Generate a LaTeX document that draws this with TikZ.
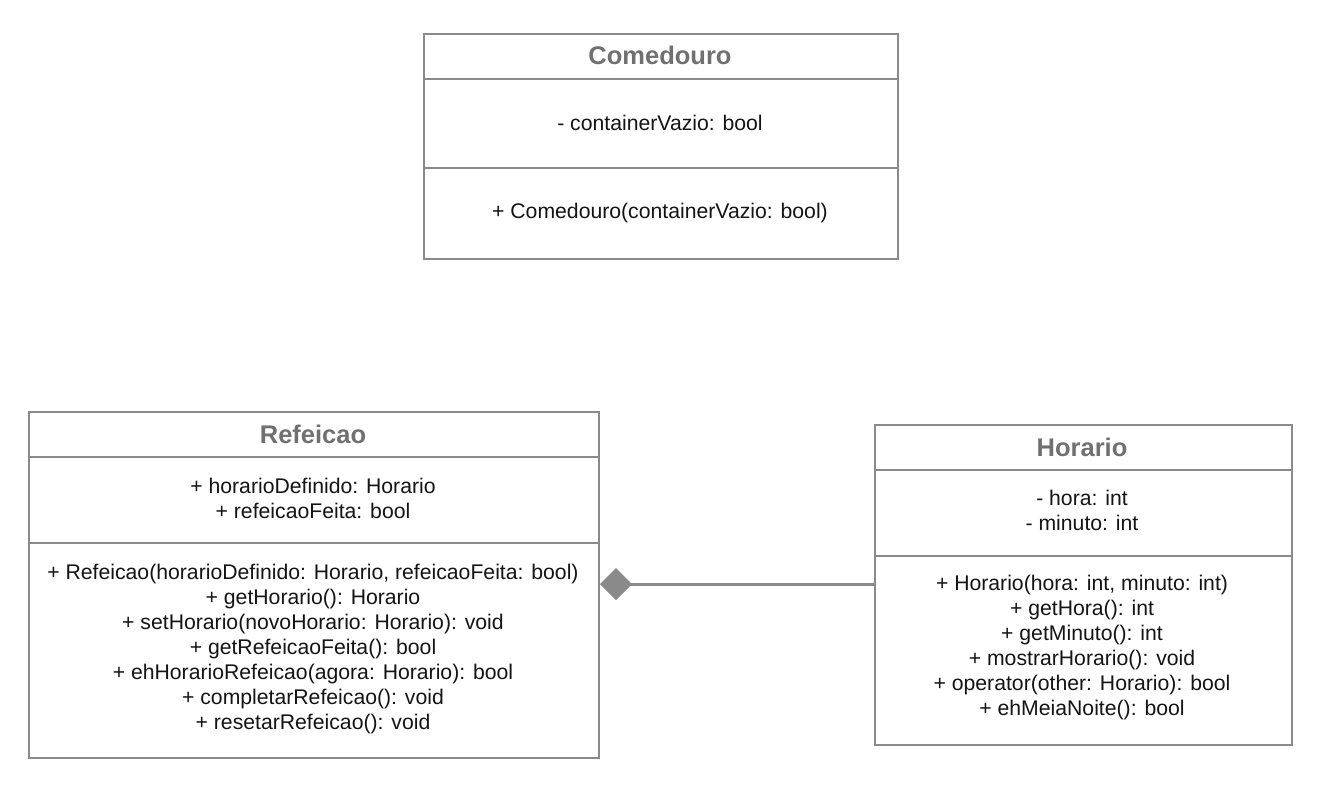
\documentclass[tikz,border=0pt]{standalone}
\usepackage{fontspec}
\setmainfont{Liberation Sans}
\usetikzlibrary{arrows.meta}
\definecolor{lc}{HTML}{8A8A8A}
\definecolor{tc}{HTML}{707070}
\definecolor{txt}{HTML}{141414}
\begin{document}
\begin{tikzpicture}[x=1pt,y=-1pt,
  box/.style={draw=lc, line width=2pt, fill=white, inner sep=0pt, anchor=north west},
  divider/.style={draw=lc, line width=1.6pt},
  title/.style={font=\fontsize{25.5}{29}\selectfont\bfseries, text=tc, inner sep=0pt},
  members/.style={font=\fontsize{21.2}{25}\selectfont, text=txt, align=center, inner sep=0pt},
  comp/.style={draw=lc, line width=3pt, {Diamond[length=32pt,width=32pt,fill=lc,line width=0pt]}-}]
\useasboundingbox (0,0) rectangle (1320,785);
% Comedouro
\node[box, minimum width=474pt, minimum height=225pt] (com) at (423,33) {};
\draw[divider] ([yshift=-46pt]com.north west) -- ([yshift=-46pt]com.north east);
\draw[divider] ([yshift=-135pt]com.north west) -- ([yshift=-135pt]com.north east);
\node[title] (comT) at (660,55) {Comedouro};
\node[members] (comA) at (660,123) {- containerVazio: bool};
\node[members] (comM) at (660,213) {+ Comedouro(containerVazio: bool)};
% Refeicao
\node[box, minimum width=570pt, minimum height=346pt] (ref) at (28,411) {};
\draw[divider] ([yshift=-46pt]ref.north west) -- ([yshift=-46pt]ref.north east);
\draw[divider] ([yshift=-132pt]ref.north west) -- ([yshift=-132pt]ref.north east);
\node[title] (refT) at (313,434) {Refeicao};
\node[members] (refA) at (313,498) {+ horarioDefinido: Horario\\+ refeicaoFeita: bool};
\node[members] (refM) at (313,649) {+ Refeicao(horarioDefinido: Horario, refeicaoFeita: bool)\\
  + getHorario(): Horario\\
  + setHorario(novoHorario: Horario): void\\
  + getRefeicaoFeita(): bool\\
  + ehHorarioRefeicao(agora: Horario): bool\\
  + completarRefeicao(): void\\
  + resetarRefeicao(): void};
% Horario
\node[box, minimum width=417pt, minimum height=320pt] (hor) at (874,424) {};
\draw[divider] ([yshift=-46pt]hor.north west) -- ([yshift=-46pt]hor.north east);
\draw[divider] ([yshift=-132pt]hor.north west) -- ([yshift=-132pt]hor.north east);
\node[title] (horT) at (1082,447) {Horario};
\node[members] (horA) at (1082,510) {- hora: int\\- minuto: int};
\node[members] (horM) at (1082,648) {+ Horario(hora: int, minuto: int)\\
  + getHora(): int\\
  + getMinuto(): int\\
  + mostrarHorario(): void\\
  + operator(other: Horario): bool\\
  + ehMeiaNoite(): bool};
% composition
\coordinate (refC) at (ref.east |- 0,584);
\coordinate (horC) at (hor.west |- 0,584);
\draw[comp] (refC) -- (horC);
\end{tikzpicture}
\end{document}
